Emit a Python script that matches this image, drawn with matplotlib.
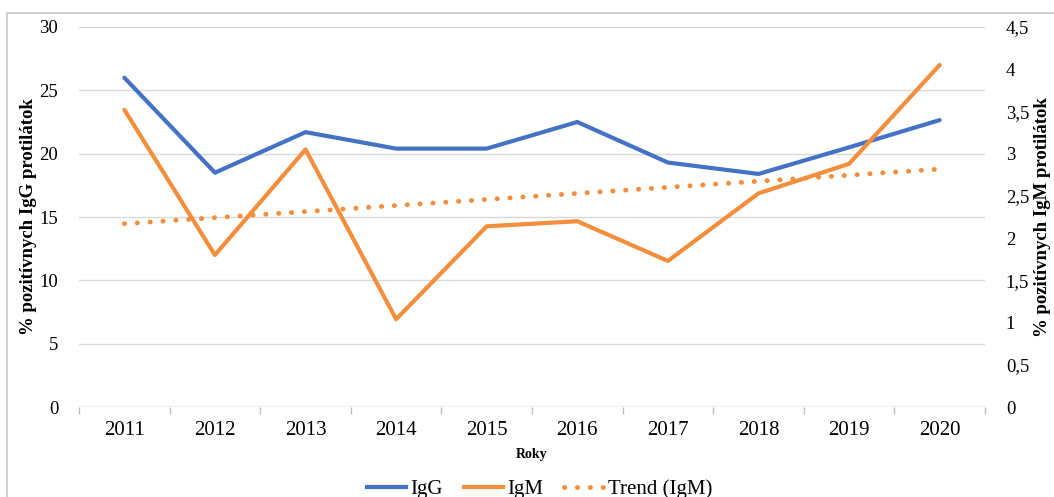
import numpy as np
import matplotlib
matplotlib.use("Agg")
import matplotlib.pyplot as plt
from matplotlib.patches import Rectangle
from matplotlib.lines import Line2D
from matplotlib.ticker import FuncFormatter, FixedLocator

# data
roky = ['2011', '2012', '2013', '2014', '2015', '2016', '2017', '2018', '2019', '2020']
igg = [26.0, 18.5, 21.7, 20.4, 20.4, 22.5, 19.3, 18.4, 20.5, 22.65]
igm = [3.52, 1.80, 3.05, 1.04, 2.14, 2.20, 1.73, 2.53, 2.88, 4.05]

blue = '#4472C4'
orange = '#F28E3C'
dots = (0, (0.05, 2.6))

plt.rcParams['font.family'] = 'Liberation Serif'

fig = plt.figure(figsize=(10.54, 4.97), dpi=100)
ax = fig.add_axes([0.075, 0.181, 0.8595, 0.7647])
ax2 = ax.twinx()

x = np.arange(len(roky))

# linear trend of IgM, like the spreadsheet trendline
k, q = np.polyfit(x, igm, 1)
trend = k * x + q

ax.plot(x, igg, color=blue, lw=3, solid_capstyle='round', zorder=3)
ax2.plot(x, igm, color=orange, lw=3, solid_capstyle='round', zorder=3)
ax2.plot(x, trend, color=orange, lw=3.5, linestyle=dots, dash_capstyle='round', zorder=2)

ax.set_xlim(-0.5, len(roky) - 0.5)
ax.set_ylim(0, 30)
ax2.set_ylim(0, 4.5)
ax.set_yticks(np.arange(0, 31, 5))
ax2.set_yticks(np.arange(0, 4.51, 0.5))
ax2.yaxis.set_major_formatter(FuncFormatter(lambda v, p: ('%g' % v).replace('.', ',')))

ax.set_xticks(x)
ax.set_xticklabels(roky, fontsize=15)
ax.xaxis.set_minor_locator(FixedLocator(np.arange(-0.5, len(roky), 1)))
ax.tick_params(axis='x', which='major', length=0, pad=10)
ax.tick_params(axis='x', which='minor', length=5, color='#bfbfbf', width=1)
ax.tick_params(axis='y', length=0, pad=15, labelsize=13.5)
ax2.tick_params(axis='y', length=0, pad=15, labelsize=13.5)

ax.grid(axis='y', color='#d9d9d9', lw=1)
ax.set_axisbelow(True)
for a in (ax, ax2):
    for s in ['top', 'left', 'right', 'bottom']:
        a.spines[s].set_visible(False)
ax.axhline(0, color='#d0d0d0', lw=1, zorder=1)

ax.set_ylabel('% pozitívnych IgG protilátok', fontsize=13.5, fontweight='bold')
ax2.set_ylabel('% pozitívnych IgM protilátok', fontsize=13.5, fontweight='bold', rotation=90)
ax.yaxis.set_label_coords(-0.046, 0.5)
ax2.yaxis.set_label_coords(1.054, 0.5)
ax.set_xlabel('Roky', fontsize=10, fontweight='bold', labelpad=6)

fig.patches.append(Rectangle((7 / 1054, -0.2), 1.2, 1.2 - 13 / 497, transform=fig.transFigure,
                             fill=False, edgecolor='#c8c8c8', lw=1.2))

handles = [Line2D([], [], color=blue, lw=3),
           Line2D([], [], color=orange, lw=3),
           Line2D([], [], color=orange, lw=3.5, linestyle=dots, dash_capstyle='round')]
fig.legend(handles, ['IgG', 'IgM', 'Trend (IgM)'], loc='center', bbox_to_anchor=(0.512, 0.016),
           ncol=3, frameon=False, fontsize=15, handlelength=1.9, columnspacing=1.0, handletextpad=0.2)

fig.savefig('out.png', dpi=100)
